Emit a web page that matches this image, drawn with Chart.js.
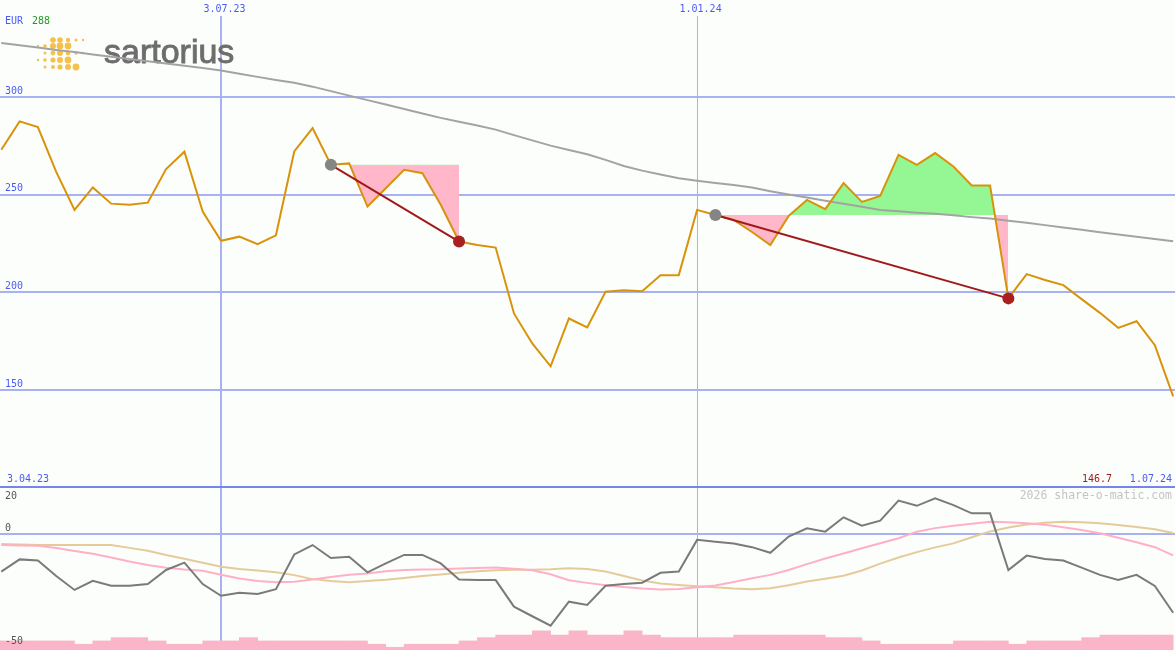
<!DOCTYPE html>
<html>
<head>
<meta charset="utf-8">
<script src="https://cdn.jsdelivr.net/npm/chart.js@4.4.1/dist/chart.umd.min.js"></script>
<style>
  html, body { margin: 0; padding: 0; background: #fcfefc; }
  #wrap { position: relative; width: 1175px; height: 650px; overflow: hidden; background: #fcfefc; }
  #top { position: absolute; left: 0; top: 0; }
  #bottom { position: absolute; left: 0; top: 487px; }
  #sep { position: absolute; left: 0; top: 486px; width: 1175px; height: 2px; background: #7585e8; }
</style>
</head>
<body>
<div id="wrap">
  <div id="top"><canvas id="chartTop" width="1175" height="487"></canvas></div>
  <div id="bottom"><canvas id="chartBottom" width="1175" height="163"></canvas></div>
  <div id="sep"></div>
</div>
<script>
// weekly closes, Mondays 10.04.23 .. 1.07.24
const weekDates = [
  '10.04.23','17.04.23','24.04.23','1.05.23','8.05.23','15.05.23','22.05.23','29.05.23','5.06.23','12.06.23',
  '19.06.23','26.06.23','3.07.23','10.07.23','17.07.23','24.07.23','31.07.23','7.08.23','14.08.23','21.08.23',
  '28.08.23','4.09.23','11.09.23','18.09.23','25.09.23','2.10.23','9.10.23','16.10.23','23.10.23','30.10.23',
  '6.11.23','13.11.23','20.11.23','27.11.23','4.12.23','11.12.23','18.12.23','25.12.23','1.01.24','8.01.24',
  '15.01.24','22.01.24','29.01.24','5.02.24','12.02.24','19.02.24','26.02.24','4.03.24','11.03.24','18.03.24',
  '25.03.24','1.04.24','8.04.24','15.04.24','22.04.24','29.04.24','6.05.24','13.05.24','20.05.24','27.05.24',
  '3.06.24','10.06.24','17.06.24','24.06.24','1.07.24'
];
const rangeStart = '3.04.23';
const tickWeeks = [12, 38];

const price = [
  273.0, 287.5, 284.6, 261.7, 242.2, 253.7, 245.4, 244.8, 245.9, 263.1,
  272.0, 241.3, 226.4, 228.5, 224.7, 229.2, 272.1, 284.1, 265.3, 266.0,
  243.9, 253.3, 262.7, 261.0, 244.8, 226.0, 224.2, 222.9, 189.2, 173.8,
  162.1, 186.6, 182.0, 200.3, 201.1, 200.6, 208.8, 208.8, 242.2, 239.6,
  237.1, 230.9, 224.2, 239.1, 247.3, 242.6, 255.9, 246.3, 249.4, 270.4,
  265.3, 271.3, 264.4, 254.7, 254.7, 196.9, 209.3, 206.3, 203.7, 196.5,
  189.5, 181.8, 185.2, 172.9, 146.7
];
const sma = [
  327.7, 326.5, 325.3, 324.1, 323.0, 321.8, 320.6, 319.4, 318.3, 317.1,
  316.0, 314.8, 313.6, 311.9, 310.3, 308.7, 307.3, 305.3, 303.0, 300.7,
  298.4, 296.2, 293.9, 291.6, 289.3, 287.3, 285.4, 283.3, 280.5, 277.8,
  275.1, 272.9, 270.7, 267.8, 264.7, 262.3, 260.3, 258.4, 257.1, 256.0,
  255.0, 253.7, 251.8, 250.1, 248.5, 246.9, 245.4, 243.8, 242.2, 241.5,
  240.8, 240.2, 239.4, 238.5, 237.8, 236.7, 235.6, 234.4, 233.2, 232.0,
  230.8, 229.6, 228.5, 227.3, 226.1
];
const tradeEntries = [18, 39];
const tradeExits = [25, 55];
const priceTicks = [150, 200, 250, 300];

const osc = [
  -16.0, -10.8, -11.3, -17.9, -23.8, -19.9, -22.0, -22.0, -21.3, -15.3,
  -12.2, -21.3, -26.3, -25.0, -25.5, -23.5, -8.7, -4.7, -10.2, -9.7,
  -16.3, -12.5, -8.9, -8.9, -12.5, -19.4, -19.6, -19.6, -30.9, -35.0,
  -39.0, -28.8, -30.2, -22.0, -21.3, -20.7, -16.5, -16.0, -2.5, -3.3,
  -4.0, -5.6, -8.0, -1.1, 2.4, 1.0, 7.1, 3.5, 5.7, 14.2,
  12.0, 15.2, 12.3, 8.8, 8.8, -15.3, -9.2, -10.6, -11.3, -14.3,
  -17.4, -19.6, -17.4, -22.1, -33.5
];
const oscFast = [
  -4.7, -4.9, -5.0, -6.0, -7.2, -8.4, -10.0, -11.7, -13.2, -14.4,
  -15.1, -15.6, -17.3, -18.9, -20.0, -20.5, -20.3, -19.4, -18.3, -17.3,
  -16.8, -15.9, -15.3, -15.1, -15.0, -14.7, -14.5, -14.3, -14.8, -15.4,
  -17.1, -19.7, -20.8, -21.8, -22.6, -23.2, -23.6, -23.4, -22.7, -21.9,
  -20.4, -18.8, -17.4, -15.3, -12.8, -10.4, -8.3, -6.1, -3.9, -1.8,
  1.0, 2.5, 3.5, 4.4, 5.2, 5.0, 4.6, 3.9, 2.9, 1.7,
  0.3, -1.6, -3.5, -5.6, -9.1
];
const oscSlow = [
  -4.3, -4.5, -4.7, -4.7, -4.7, -4.7, -4.7, -5.9, -7.1, -8.9,
  -10.5, -12.2, -13.9, -14.9, -15.5, -16.3, -17.5, -19.2, -20.0, -20.5,
  -20.0, -19.5, -18.7, -17.9, -17.2, -16.5, -15.9, -15.4, -15.2, -15.2,
  -15.0, -14.6, -14.9, -16.0, -17.9, -19.8, -21.1, -21.7, -22.2, -22.7,
  -23.2, -23.5, -23.1, -21.8, -20.2, -19.0, -17.8, -15.5, -12.6, -10.0,
  -7.7, -5.7, -4.0, -1.4, 1.1, 2.8, 4.0, 4.8, 5.2, 5.0,
  4.6, 3.8, 3.0, 2.0, 0.4
];
// bar j covers the week ending at weekDates[j]
const volBars = [
  -45.5, -45.5, -45.5, -45.5, -45.5, -46.9, -45.5, -44.1, -44.1, -45.5,
  -46.9, -46.9, -45.5, -45.5, -44.1, -45.5, -45.5, -45.5, -45.5, -45.5,
  -45.5, -46.9, -48.2, -46.9, -46.9, -46.9, -45.5, -44.1, -43.0, -43.0,
  -41.2, -43.0, -41.2, -43.0, -43.0, -41.2, -43.0, -44.1, -44.1, -44.1,
  -44.1, -43.0, -43.0, -43.0, -43.0, -43.0, -44.1, -44.1, -45.5, -46.9,
  -46.9, -46.9, -46.9, -45.5, -45.5, -45.5, -46.9, -45.5, -45.5, -45.5,
  -44.1, -43.0, -43.0, -43.0, -43.0
];
const oscLabels = [20, 0, -50];

const BLUE = '#4b5cf5', GRID = '#a6b2f2', MONO = '"DejaVu Sans Mono", monospace';

function pts(arr) { return arr.map((v, i) => ({ x: i, y: v })); }

function label(ctx, text, x, y, color, align, size) {
  ctx.save();
  ctx.font = (size || 10) + 'px ' + MONO;
  ctx.fillStyle = color;
  ctx.textAlign = align || 'left';
  ctx.textBaseline = 'middle';
  ctx.fillText(text, x, y);
  ctx.restore();
}

const xScale = {
  type: 'linear', min: -0.07, max: 64.1, offset: false,
  afterBuildTicks: s => { s.ticks = tickWeeks.map(v => ({ value: v })); },
  afterFit: s => { s.height = 0; },
  ticks: { display: false },
  border: { display: false },
  grid: { color: GRID, drawTicks: false, offset: false,
          lineWidth: c => (c.tick && c.tick.value === 12 ? 2 : 1) }
};

// --- top panel: price ---
const fillSets = tradeEntries.map((e, t) => ({
  data: pts(price).slice(e, tradeExits[t] + 1),
  borderWidth: 0, borderColor: 'rgba(0,0,0,0)', pointRadius: 0,
  fill: { target: { value: price[e] }, above: '#94f794', below: '#ffb7c9' },
  order: 6
}));
const trendPts = [];
tradeEntries.forEach((e, t) => {
  trendPts.push({ x: e, y: price[e] }, { x: tradeExits[t], y: price[tradeExits[t]] });
  trendPts.push({ x: tradeExits[t] + 1, y: null });
});

const topLabels = {
  id: 'topLabels',
  beforeDatasetsDraw(chart) {
    const ctx = chart.ctx;
    ctx.save();
    ctx.fillStyle = '#f6c04c';
    const dots = [
      [53,40,2.8],[60,40,2.8],[68,40,2.2],[76,40,1.5],[83,40,1.2],
      [38,46,1.2],[45,46,1.8],[53,46,3],[60,46,3.4],[68,46,3.4],
      [45,53,1.5],[53,53,2.4],[60,53,3],[68,53,2.4],[76,53,1.8],[83,53,1.2],
      [38,60,1.2],[45,60,1.8],[53,60,2.6],[60,60,3],[68,60,3.4],
      [45,67,1.5],[53,67,2],[60,67,2.6],[68,67,3],[76,67,3.4]
    ];
    dots.forEach(d => { ctx.beginPath(); ctx.arc(d[0], d[1], d[2], 0, Math.PI * 2); ctx.fill(); });
    ctx.font = '34px "Liberation Sans", Arial, sans-serif';
    ctx.fillStyle = '#6d6d6d';
    ctx.strokeStyle = '#6d6d6d';
    ctx.lineWidth = 0.9;
    ctx.textBaseline = 'alphabetic';
    ctx.fillText('sartorius', 104, 63);
    ctx.strokeText('sartorius', 104, 63);
    ctx.restore();
  },
  afterDraw(chart) {
    const ctx = chart.ctx, y = chart.scales.y, x = chart.scales.x;
    priceTicks.forEach(v => label(ctx, String(v), 5, y.getPixelForValue(v) - 6, BLUE));
    tickWeeks.forEach(v => label(ctx, weekDates[v], x.getPixelForValue(v) + 3.5, 9, BLUE, 'center'));
    label(ctx, 'EUR', 5, 21, BLUE);
    label(ctx, String(Math.round(Math.max(...price))), 32, 21, '#1f9a1f');
    label(ctx, rangeStart, 7, 479, BLUE);
    label(ctx, price[price.length - 1].toFixed(1), 1112, 479, '#a01c1c', 'right');
    label(ctx, weekDates[weekDates.length - 1], 1172, 479, BLUE, 'right');
  }
};

new Chart(document.getElementById('chartTop'), {
  type: 'line',
  data: {
    datasets: [
      ...fillSets,
      { data: pts(sma), borderColor: '#a3a3a3', borderWidth: 2, pointRadius: 0, order: 5 },
      { data: pts(price), borderColor: '#d8930a', borderWidth: 2, pointRadius: 0, order: 4 },
      { data: trendPts, borderColor: '#a11a1a', borderWidth: 2, pointRadius: 0, order: 3 },
      { data: tradeEntries.map(e => ({ x: e, y: price[e] })), showLine: false,
        pointRadius: 6, pointBackgroundColor: '#858585', pointBorderWidth: 0, order: 2 },
      { data: tradeExits.map(e => ({ x: e, y: price[e] })), showLine: false,
        pointRadius: 6, pointBackgroundColor: '#a8201f', pointBorderWidth: 0, order: 1 }
    ]
  },
  options: {
    responsive: false, animation: false, events: [],
    layout: { autoPadding: false, padding: { top: 16, left: 0, right: 0, bottom: 0 } },
    plugins: { legend: { display: false }, tooltip: { enabled: false } },
    elements: { line: { tension: 0 } },
    scales: {
      x: xScale,
      y: {
        type: 'linear', min: 100.33, max: 341.47,
        afterBuildTicks: s => { s.ticks = priceTicks.map(v => ({ value: v })); },
        afterFit: s => { s.width = 0; },
        ticks: { display: false },
        border: { display: false },
        grid: { color: GRID, lineWidth: 2, drawTicks: false }
      }
    }
  },
  plugins: [topLabels]
});

// --- bottom panel: oscillator ---
const bottomLabels = {
  id: 'bottomLabels',
  afterDraw(chart) {
    const ctx = chart.ctx, y = chart.scales.y;
    const shift = { '20': 9, '0': -6, '-50': -10 };
    oscLabels.forEach(v => label(ctx, String(v), 5, y.getPixelForValue(v) + shift[String(v)], '#555555'));
    label(ctx, '2026 share-o-matic.com', 1172, 9, '#c4c4c4', 'right', 11.5);
  }
};

new Chart(document.getElementById('chartBottom'), {
  type: 'line',
  data: {
    datasets: [
      { type: 'bar', data: volBars.map((v, i) => ({ x: i - 0.5, y: [-50, v] })),
        backgroundColor: '#fbb5c9', borderWidth: 0, barPercentage: 1, categoryPercentage: 1, order: 4 },
      { data: pts(oscSlow), borderColor: '#e5cb9a', borderWidth: 2, pointRadius: 0, order: 3 },
      { data: pts(oscFast), borderColor: '#ffb0c6', borderWidth: 2, pointRadius: 0, order: 2 },
      { data: pts(osc), borderColor: '#7a7a7a', borderWidth: 2, pointRadius: 0, order: 1 }
    ]
  },
  options: {
    responsive: false, animation: false, events: [],
    layout: { autoPadding: false, padding: 0 },
    plugins: { legend: { display: false }, tooltip: { enabled: false } },
    elements: { line: { tension: 0 } },
    scales: {
      x: Object.assign({}, xScale, { position: 'bottom' }),
      y: {
        type: 'linear', min: -49.36, max: 20,
        afterBuildTicks: s => { s.ticks = [{ value: 0 }]; },
        afterFit: s => { s.width = 0; },
        ticks: { display: false },
        border: { display: false },
        grid: { color: GRID, lineWidth: 2, drawTicks: false }
      }
    }
  },
  plugins: [bottomLabels]
});
</script>
</body>
</html>
